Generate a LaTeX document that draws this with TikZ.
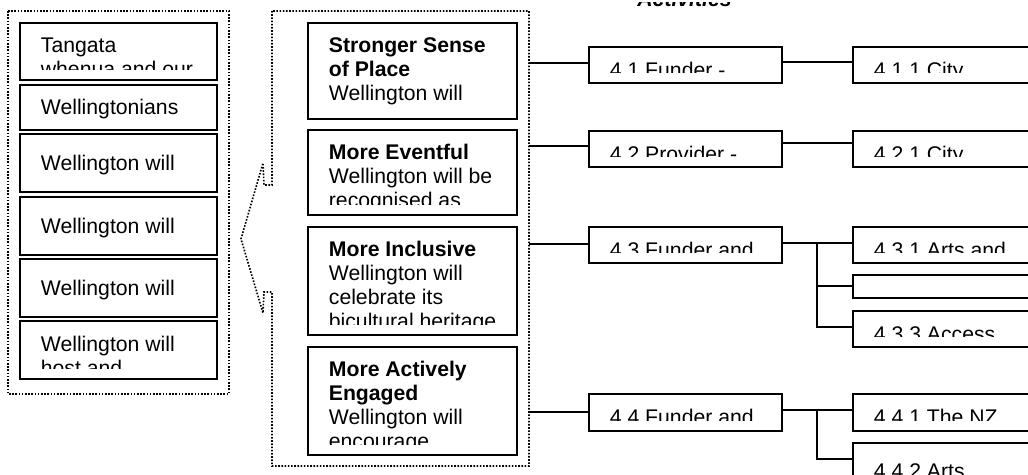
\documentclass[tikz,border=0pt]{standalone}
\usepackage{fontspec}
\setmainfont{Liberation Sans}
\usetikzlibrary{fit}
\tikzset{
  box/.style={draw, line width=1pt, inner sep=0pt},
  callout/.style={draw, line width=0.8pt, dash pattern=on 0.8pt off 0.8pt},
  wire/.style={draw, line width=1pt},
  txt/.style={anchor=base west, inner sep=0pt, font=\fontsize{10.6}{12}\selectfont},
}
% name, x1, y1, x2, y2, baseline offset, text
\newcommand\mybox[7]{%
  \node[box, fit={(#2,#3) (#4,#5)}] (#1) {};
  \begin{scope}
    \clip (#2,#3) rectangle (#4,#5-10.5);
    \node[txt] (#1t) at (#2+20.5,#3+#6) {\parbox[t]{220pt}{\raggedright #7}};
  \end{scope}}
\begin{document}
\begin{tikzpicture}[x=0.5pt,y=-0.5pt]
\useasboundingbox (0,0) rectangle (1028,475);
\clip (0,0) rectangle (1028,475);

% title (only its lowest edge shows)
\begin{scope}
  \clip (600,3) rectangle (800,10);
  \node[anchor=base west, inner sep=0pt, font=\fontsize{10.6}{12}\selectfont\bfseries\itshape] (title) at (637,6.5) {Activities};
\end{scope}

% left dotted frame
\draw[callout] (8,11) rectangle (229,394);

% callout frame
\draw[callout] (272,11) -- (272,185) -- (264,185) -- (263,163) -- (241,239)
  -- (263,313) -- (264,292) -- (272,292) -- (272,466) -- (529,466) -- (529,11) -- cycle;

% left column
\mybox{L1}{20}{23}{217}{80}{30}{Tangata\\whenua and our}
\mybox{L2}{20}{85}{217}{130}{30}{Wellingtonians}
\mybox{L3}{20}{134}{217}{192}{36.5}{Wellington will}
\mybox{L4}{20}{197}{217}{255}{36.5}{Wellington will}
\mybox{L5}{20}{259}{217}{317}{36.5}{Wellington will}
\mybox{L6}{20}{321}{217}{379}{31}{Wellington will\\host and}

% middle column
\mybox{MA}{308}{23}{517}{119}{30}{\textbf{Stronger Sense\\of Place}\\Wellington will}
\mybox{MB}{308}{130}{517}{215}{30}{\textbf{More Eventful}\\Wellington will be\\recognised as}
\mybox{MC}{308}{227}{517}{335}{30}{\textbf{More Inclusive}\\Wellington will\\celebrate its\\bicultural heritage}
\mybox{MD}{308}{347}{517}{455}{30}{\textbf{More Actively\\Engaged}\\Wellington will\\encourage}

% second column
\mybox{n41}{589}{47}{782}{83}{31}{4.1 Funder -}
\mybox{n42}{589}{131}{782}{167}{31}{4.2 Provider -}
\mybox{n43}{589}{227}{782}{263}{31}{4.3 Funder and}
\mybox{n44}{589}{394}{782}{431}{31}{4.4 Funder and}

% third column
\mybox{n411}{853}{47}{1040}{83}{31}{4.1.1 City}
\mybox{n421}{853}{131}{1040}{167}{31}{4.2.1 City}
\mybox{n431}{853}{227}{1040}{263}{31}{4.3.1 Arts and}
\mybox{n432}{853}{275}{1040}{298}{31}{}
\mybox{n433}{853}{311}{1040}{347}{31}{4.3.3 Access}
\mybox{n441}{853}{394}{1040}{431}{31}{4.4.1 The NZ}
\mybox{n442}{853}{443}{1040}{500}{36}{4.4.2 Arts}

% connectors from callout
\coordinate (oA) at (529,63);
\coordinate (oB) at (529,146);
\coordinate (oC) at (529,244);
\coordinate (oD) at (529,412);
\draw[wire] (oA) -- (oA -| n41.west);
\draw[wire] (oB) -- (oB -| n42.west);
\draw[wire] (oC) -- (oC -| n43.west);
\draw[wire] (oD) -- (oD -| n44.west);

\draw[wire] (n41.east |- 0,62) -- (n411.west |- 0,62);
\draw[wire] (n42.east |- 0,143) -- (n421.west |- 0,143);

\coordinate (j3) at (817,243);
\draw[wire] (n43.east |- j3) -- (n431.west |- j3);
\draw[wire] (j3) |- (n432.west);
\draw[wire] (j3) |- (n433.west |- 0,327);

\coordinate (j4) at (817,410);
\draw[wire] (n44.east |- j4) -- (n441.west |- j4);
\draw[wire] (j4) |- (n442.west |- 0,459);
\end{tikzpicture}
\end{document}
